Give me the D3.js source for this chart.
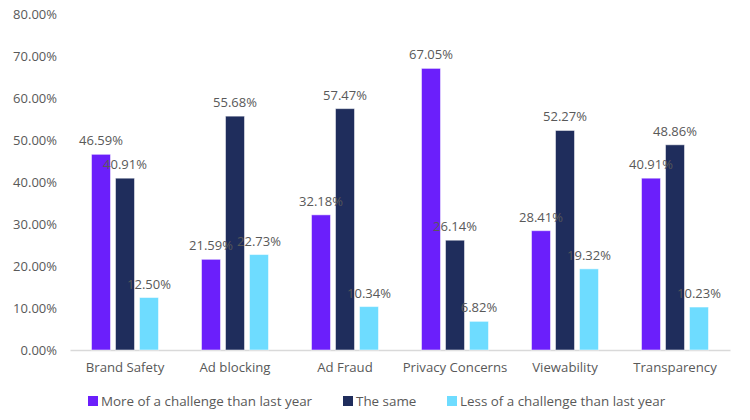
<!DOCTYPE html>
<html>
<head>
<meta charset="utf-8">
<script src="https://cdn.jsdelivr.net/npm/d3@7"></script>
<style>
  html, body { margin: 0; padding: 0; background: #fff; }
  svg { display: block; font-family: "Open Sans", "Noto Sans", sans-serif; }
</style>
</head>
<body>
<svg id="chart" width="750" height="420"></svg>
<script>
const categories = ["Brand Safety", "Ad blocking", "Ad Fraud", "Privacy Concerns", "Viewability", "Transparency"];
const seriesNames = ["More of a challenge than last year", "The same", "Less of a challenge than last year"];
const moreChallenge = [46.59, 21.59, 32.18, 67.05, 28.41, 40.91];
const theSame = [40.91, 55.68, 57.47, 26.14, 52.27, 48.86];
const lessChallenge = [12.50, 22.73, 10.34, 6.82, 19.32, 10.23];
const yTicks = [0, 10, 20, 30, 40, 50, 60, 70, 80];
const colors = ["#6B1FFB", "#1F2D5C", "#6EDCFF"];

const seriesValues = [moreChallenge, theSame, lessChallenge];
const svg = d3.select("#chart");

const x = d3.scaleBand().domain(categories).range([70, 730]).padding(0);
const x1 = d3.scaleBand().domain(seriesNames).range([0, x.bandwidth()])
  .paddingInner(5 / 24).paddingOuter(0.896);
const y = d3.scaleLinear().domain([0, 80]).range([350, 14]);

// Y axis labels
const yAxis = d3.axisLeft(y).tickValues(yTicks).tickSize(0).tickPadding(13)
  .tickFormat(d => d.toFixed(2) + "%");
const yg = svg.append("g").attr("transform", "translate(70,0)").call(yAxis);
yg.select(".domain").remove();
yg.selectAll("text").attr("fill", "#595959").style("font-size", "13px")
  .style("font-family", "'Open Sans', sans-serif");

// X axis
const xAxis = d3.axisBottom(x).tickSize(0).tickPadding(13);
const xg = svg.append("g").attr("transform", "translate(0,350)").call(xAxis);
xg.select(".domain").attr("stroke", "#d9d9d9").attr("stroke-width", 1.3);
xg.selectAll("text").attr("fill", "#595959").style("font-size", "13.2px")
  .style("font-family", "'Open Sans', sans-serif");

// Bars
const groups = svg.append("g");
seriesNames.forEach((s, si) => {
  groups.selectAll(".bar-" + si)
    .data(categories.map((c, i) => ({ c, v: seriesValues[si][i] })))
    .join("rect")
    .attr("x", d => x(d.c) + x1(s))
    .attr("y", d => y(d.v))
    .attr("width", x1.bandwidth())
    .attr("height", d => y(0) - y(d.v))
    .attr("fill", colors[si])
    .attr("stroke", "#ffffff")
    .attr("stroke-opacity", 0.5)
    .attr("stroke-width", 1);
});

// Labels (on top)
const labels = svg.append("g");
seriesNames.forEach((s, si) => {
  labels.selectAll(".lbl-" + si)
    .data(categories.map((c, i) => ({ c, v: seriesValues[si][i] })))
    .join("text")
    .attr("x", d => x(d.c) + x1(s) + x1.bandwidth() / 2)
    .attr("y", d => y(d.v) - 9)
    .attr("text-anchor", "middle")
    .attr("fill", "#595959")
    .style("font-size", "13px")
    .text(d => d.v.toFixed(2) + "%");
});

// Legend
const legendX = [88, 343, 447];
const leg = svg.append("g");
seriesNames.forEach((s, si) => {
  const g = leg.append("g").attr("transform", `translate(${legendX[si]},396)`);
  g.append("rect").attr("width", 10).attr("height", 10).attr("fill", colors[si]);
  g.append("text").attr("x", 13).attr("y", 5).attr("dy", "0.35em")
    .attr("fill", "#595959").style("font-size", "13.4px").text(s);
});
</script>
</body>
</html>
